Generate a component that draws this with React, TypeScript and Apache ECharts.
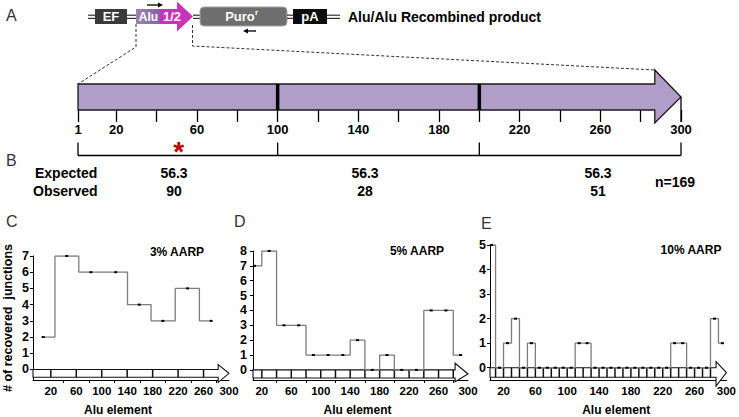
import React, { useEffect, useRef } from 'react';
import * as echarts from 'echarts';

const FONT = '"Liberation Sans", Arial, Helvetica, sans-serif';

// ---------------- Data ----------------
// Alu element scale (panel A/B)
const aluTicks = [1, 20, 40, 60, 80, 100, 120, 140, 160, 180, 200, 220, 240, 260, 280, 300];
const aluLabels = [1, 20, 60, 100, 140, 180, 220, 260, 300];
const segmentBounds = [1, 100, 200, 300];
const expectedCounts = ['56.3', '56.3', '56.3'];
const observedCounts = ['90', '28', '51'];
const totalN = 169;

// Panel C: 3% AARP
const aarp3X = [8, 45, 83, 122, 159, 196, 235, 272];
const aarp3Y = [2, 7, 6, 6, 4, 3, 5, 3];
// Panel D: 5% AARP
const aarp5X = [10, 30, 50, 70, 90, 110, 130, 150, 170, 190, 210, 230, 250, 270, 290];
const aarp5Y = [7, 8, 3, 3, 1, 1, 1, 2, 0, 1, 0, 0, 4, 4, 1];
// Panel E: 10% AARP
const aarp10X = [5, 15, 25, 35, 45, 55, 65, 75, 85, 95, 105, 115, 125, 135, 145, 155, 165, 175, 185, 195, 205, 215, 225, 235, 245, 255, 265, 275, 285, 295];
const aarp10Y = [5, 0, 1, 2, 0, 1, 0, 0, 0, 0, 0, 1, 1, 0, 0, 0, 0, 0, 0, 0, 0, 0, 0, 1, 1, 0, 0, 0, 2, 1];

const panelXLabels = [20, 60, 100, 140, 180, 220, 260, 300];
const innerTicks40 = [20, 60, 100, 140, 180, 220, 260];
const innerTicks20 = [20, 40, 60, 80, 100, 120, 140, 160, 180, 200, 220, 240, 260, 280];
const innerTicks10 = [10, 20, 30, 40, 50, 60, 70, 80, 90, 100, 110, 120, 130, 140, 150, 160, 170, 180, 190, 200, 210, 220, 230, 240, 250, 260, 270, 280];
const baseTicks = [40, 80, 120, 160, 200, 240, 280];
const yTicks7 = [0, 1, 2, 3, 4, 5, 6, 7];
const yTicks8 = [0, 1, 2, 3, 4, 5, 6, 7, 8];
const yTicks5 = [0, 1, 2, 3, 4, 5];

// ---------------- Layout ----------------
const panels = [
  {
    title: '3% AARP', xs: aarp3X, ys: aarp3Y, yTicks: yTicks7, yMax: 7, yMin: -0.65,
    grid: { left: 30, top: 256, width: 199, height: 131 }, xMin: -8,
    bodyBottom: -0.48, headStart: 283, headTop: 0.3, headBottom: -0.8,
    inner: innerTicks40, base: baseTicks, yLabelMargin: 4, titlePos: [177, 252], nameShift: 26,
    yName: '# of recovered  junctions',
  },
  {
    title: '5% AARP', xs: aarp5X, ys: aarp5Y, yTicks: yTicks8, yMax: 8, yMin: -0.68,
    grid: { left: 253, top: 251, width: 215, height: 136.7 }, xMin: 8,
    bodyBottom: -0.55, headStart: 282.5, headTop: 0.45, headBottom: -0.8,
    inner: innerTicks20, base: baseTicks, yLabelMargin: 6, titlePos: [417, 251], nameShift: 6,
    yName: '',
  },
  {
    title: '10% AARP', xs: aarp10X, ys: aarp10Y, yTicks: yTicks5, yMax: 5, yMin: -0.5,
    grid: { left: 490, top: 245, width: 238, height: 140.8 }, xMin: 3,
    bodyBottom: -0.39, headStart: 287, headTop: 0.25, headBottom: -0.75,
    inner: innerTicks10, base: [], yLabelMargin: 4, titlePos: [691, 250], nameShift: -16,
    yName: '',
  },
];

const letterPos: [string, number, number][] = [
  ['A', 6, 15], ['B', 6, 160], ['C', 6, 221], ['D', 234, 221], ['E', 481, 223],
];
const valueColumnX = [174, 365, 598];

function dbl(x1: number, x2: number) {
  return [15.2, 18.4].map((y) => ({
    type: 'line', shape: { x1, y1: y, x2, y2: y }, style: { stroke: '#333', lineWidth: 1.2 },
  }));
}

function buildGraphics() {
  const bold = (size: number) => `bold ${size}px ${FONT}`;
  const els: any[] = [];
  // construct row
  els.push(...dbl(88, 95));
  els.push({ type: 'rect', shape: { x: 95, y: 9, width: 32, height: 15 }, style: { fill: '#3a3a3a' } });
  els.push({ type: 'text', x: 111, y: 16.5, style: { text: 'EF', font: bold(13), fill: '#fff', align: 'center', verticalAlign: 'middle' } });
  els.push(...dbl(127, 136));
  els.push({
    type: 'rect', shape: { x: 136, y: 9, width: 25, height: 15 },
    style: { fill: new echarts.graphic.LinearGradient(0, 0, 1, 0, [{ offset: 0, color: '#9a86b4' }, { offset: 1, color: '#8a5ea6' }]) },
  });
  els.push({
    type: 'polygon',
    shape: { points: [[160, 9], [177, 9], [177, 1.5], [193, 16.5], [177, 31.5], [177, 24], [160, 24]] },
    style: { fill: '#c933b7' },
  });
  els.push({ type: 'text', x: 148.5, y: 16.5, style: { text: 'Alu', font: bold(12), fill: '#fff', align: 'center', verticalAlign: 'middle' } });
  els.push({ type: 'text', x: 172, y: 16.5, style: { text: '1/2', font: bold(13), fill: '#fff', align: 'center', verticalAlign: 'middle' } });
  // primer arrows
  els.push({ type: 'line', shape: { x1: 147, y1: 5, x2: 159, y2: 5 }, style: { stroke: '#000', lineWidth: 1.3 } });
  els.push({ type: 'polygon', shape: { points: [[158, 2.5], [163, 5], [158, 7.5]] }, style: { fill: '#000' } });
  els.push({ type: 'line', shape: { x1: 247, y1: 31, x2: 256, y2: 31 }, style: { stroke: '#000', lineWidth: 1.3 } });
  els.push({ type: 'polygon', shape: { points: [[248, 28.5], [243, 31], [248, 33.5]] }, style: { fill: '#000' } });
  // dashed zoom lines
  els.push({ type: 'polyline', shape: { points: [[136, 24], [136, 47], [78, 84]] }, style: { stroke: '#333', lineWidth: 1, lineDash: [3, 2], fill: null } });
  els.push({ type: 'polyline', shape: { points: [[192.5, 25], [192.5, 46], [655, 70]] }, style: { stroke: '#333', lineWidth: 1, lineDash: [3, 2], fill: null } });
  els.push(...dbl(193, 200));
  els.push({ type: 'rect', shape: { x: 200, y: 7, width: 87, height: 19, r: 4 }, style: { fill: '#6e6e6e', stroke: '#a5a5a5', lineWidth: 1 } });
  els.push({ type: 'text', x: 240, y: 16.5, style: { text: 'Puro', font: bold(13), fill: '#fff', align: 'center', verticalAlign: 'middle' } });
  els.push({ type: 'text', x: 255, y: 12, style: { text: 'r', font: bold(8), fill: '#fff', align: 'left', verticalAlign: 'middle' } });
  els.push(...dbl(287, 293));
  els.push({ type: 'rect', shape: { x: 293, y: 9, width: 34, height: 15 }, style: { fill: '#0d0d0d' } });
  els.push({ type: 'text', x: 310, y: 16.5, style: { text: 'pA', font: bold(13), fill: '#fff', align: 'center', verticalAlign: 'middle' } });
  els.push(...dbl(327, 340));
  els.push({ type: 'text', x: 348, y: 17, style: { text: 'Alu/Alu Recombined product', font: bold(14), fill: '#000', align: 'left', verticalAlign: 'middle' } });

  // panel letters
  letterPos.forEach(([t, x, y]) => {
    els.push({ type: 'text', x, y, style: { text: t, font: `16px ${FONT}`, fill: '#333', align: 'left', verticalAlign: 'middle' } });
  });

  // Expected / Observed table
  els.push({ type: 'text', x: 35, y: 173, style: { text: 'Expected', font: bold(14), fill: '#000', align: 'left', verticalAlign: 'middle' } });
  els.push({ type: 'text', x: 33, y: 191, style: { text: 'Observed', font: bold(14), fill: '#000', align: 'left', verticalAlign: 'middle' } });
  valueColumnX.forEach((x, i) => {
    els.push({ type: 'text', x, y: 173, style: { text: expectedCounts[i], font: bold(14), fill: '#000', align: 'center', verticalAlign: 'middle' } });
    els.push({ type: 'text', x, y: 191, style: { text: observedCounts[i], font: bold(14), fill: '#000', align: 'center', verticalAlign: 'middle' } });
  });
  els.push({ type: 'text', x: 675, y: 182, style: { text: `n=${totalN}`, font: bold(14), fill: '#000', align: 'center', verticalAlign: 'middle' } });

  // panel titles
  panels.forEach((p) => {
    els.push({ type: 'text', x: p.titlePos[0], y: p.titlePos[1], style: { text: p.title, font: bold(12), fill: '#000', align: 'center', verticalAlign: 'middle' } });
  });
  return els;
}

function topRenderItem(params: any, api: any) {
  const X = (v: number) => api.coord([v, 0])[0];
  const Y = (v: number) => api.coord([1, v])[1];
  const x0 = X(segmentBounds[0]);
  const xh = X(287);
  const xt = X(300);
  const yt = Y(1);
  const yb = Y(0);
  const ym = (yt + yb) / 2;
  const children: any[] = [];
  children.push({
    type: 'polygon',
    shape: { points: [[x0, yt], [xh, yt], [xh, Y(1.54)], [xt, ym], [xh, Y(-0.5)], [xh, yb], [x0, yb]] },
    style: { fill: '#b09ec8', stroke: '#1a1a1a', lineWidth: 1.3 },
  });
  segmentBounds.slice(1, 3).forEach((v) => {
    const x = X(v);
    children.push({ type: 'line', shape: { x1: x, y1: yt, x2: x, y2: yb }, style: { stroke: '#000', lineWidth: 3.5 } });
  });
  children.push({ type: 'line', shape: { x1: xt, y1: ym, x2: xt, y2: Y(-0.46) }, style: { stroke: '#000', lineWidth: 1.3 } });
  // bracket
  const by = Y(-1.75);
  const bt = Y(-1.25);
  children.push({ type: 'line', shape: { x1: x0, y1: by, x2: xt, y2: by }, style: { stroke: '#000', lineWidth: 1.3 } });
  segmentBounds.forEach((v) => {
    const x = X(v);
    children.push({ type: 'line', shape: { x1: x, y1: bt, x2: x, y2: by }, style: { stroke: '#000', lineWidth: 1.3 } });
  });
  // significance asterisk over the first segment
  const sx = (X(segmentBounds[0]) + X(segmentBounds[1])) / 2;
  children.push({ type: 'text', x: sx + 1, y: Y(-1.6), style: { text: '*', font: `bold 28px ${FONT}`, fill: '#c00000', align: 'center', verticalAlign: 'middle' } });
  return { type: 'group', children };
}

function makeArrowRender(p: any) {
  return (params: any, api: any) => {
    const X = (v: number) => api.coord([v, 0])[0];
    const Y = (v: number) => api.coord([p.xMin, v])[1];
    const x0 = X(p.xMin);
    const xh = X(p.headStart);
    const xt = X(300);
    const yt = Y(0);
    const yb = Y(p.bodyBottom);
    const ym = (yt + yb) / 2;
    const children: any[] = [{
      type: 'polygon',
      shape: { points: [[x0, yt], [xh, yt], [xh, Y(p.headTop)], [xt, ym], [xh, Y(p.headBottom)], [xh, yb], [x0, yb]] },
      style: { fill: '#fff', stroke: '#111', lineWidth: 1.1 },
    }];
    p.inner.forEach((v: number) => {
      const x = X(v);
      children.push({ type: 'line', shape: { x1: x, y1: yt, x2: x, y2: yb }, style: { stroke: '#111', lineWidth: 1.5 } });
    });
    return { type: 'group', children };
  };
}

function buildOption() {
  const grids: any[] = [{ left: 78, top: 84, width: 603, height: 26 }];
  const xAxes: any[] = [{
    gridIndex: 0, type: 'value', min: 1, max: 300,
    axisLine: { show: false, onZero: false },
    axisTick: { show: true, customValues: aluTicks, length: 12, lineStyle: { color: '#000', width: 1.3 } },
    axisLabel: { customValues: aluLabels, fontWeight: 'bold', fontSize: 13, color: '#000', margin: 13, fontFamily: FONT },
    splitLine: { show: false },
  }];
  const yAxes: any[] = [{ gridIndex: 0, type: 'value', min: 0, max: 1, show: false }];
  const series: any[] = [{
    type: 'custom', xAxisIndex: 0, yAxisIndex: 0, data: [[1, 0]], renderItem: topRenderItem, silent: true, clip: false, z: 3,
  }];

  panels.forEach((p, i) => {
    const gi = i + 1;
    grids.push(p.grid);
    xAxes.push({
      gridIndex: gi, type: 'value', min: p.xMin, max: 300,
      axisLine: { show: true, onZero: false, lineStyle: { color: '#000', width: 1 } },
      axisTick: { show: p.base.length > 0, customValues: p.base.length ? p.base : undefined, length: 3, lineStyle: { color: '#000' } },
      axisLabel: { customValues: panelXLabels, fontWeight: 'bold', fontSize: 11.5, color: '#000', margin: 5, fontFamily: FONT },
      splitLine: { show: false },
      name: 'Alu element', nameLocation: 'middle', nameGap: 24,
      nameTextStyle: { fontWeight: 'bold', fontSize: 12, color: '#000', fontFamily: FONT, padding: [0, p.nameShift > 0 ? p.nameShift : 0, 0, p.nameShift < 0 ? -p.nameShift : 0] },
    });
    yAxes.push({
      gridIndex: gi, type: 'value', min: p.yMin, max: p.yMax,
      axisLine: { show: true, onZero: false, lineStyle: { color: '#000', width: 1 } },
      axisTick: { show: true, customValues: p.yTicks, length: 3, lineStyle: { color: '#000' } },
      axisLabel: { customValues: p.yTicks, fontWeight: 'bold', fontSize: 12.5, color: '#000', margin: p.yLabelMargin, fontFamily: FONT },
      splitLine: { show: false },
      name: p.yName, nameLocation: 'middle', nameGap: 19, nameRotate: 90,
      nameTextStyle: { fontWeight: 'bold', fontSize: 12.5, color: '#000', fontFamily: FONT },
    });
    series.push({
      type: 'custom', xAxisIndex: gi, yAxisIndex: gi, data: [[p.xMin, 0]], renderItem: makeArrowRender(p), silent: true, clip: false, z: 2,
    });
    series.push({
      type: 'line', xAxisIndex: gi, yAxisIndex: gi, step: 'middle',
      data: p.xs.map((x: number, k: number) => [x, p.ys[k]]),
      symbol: 'rect', symbolSize: [3, 2], showSymbol: true,
      lineStyle: { color: '#7d7d7d', width: 1.3 }, itemStyle: { color: '#000' }, z: 4, silent: true,
    });
  });

  return {
    animation: false,
    backgroundColor: '#fff',
    textStyle: { fontFamily: FONT },
    grid: grids,
    xAxis: xAxes,
    yAxis: yAxes,
    series,
    graphic: { elements: buildGraphics() },
  };
}

export default function App() {
  const ref = useRef<HTMLDivElement>(null);
  useEffect(() => {
    document.body.style.margin = '0';
    document.body.style.overflow = 'hidden';
    const chart = echarts.init(ref.current!, null, { renderer: 'svg' });
    chart.setOption(buildOption() as any);
    return () => chart.dispose();
  }, []);
  return <div ref={ref} style={{ position: 'fixed', left: 0, top: 0, width: 739, height: 417 }} />;
}
